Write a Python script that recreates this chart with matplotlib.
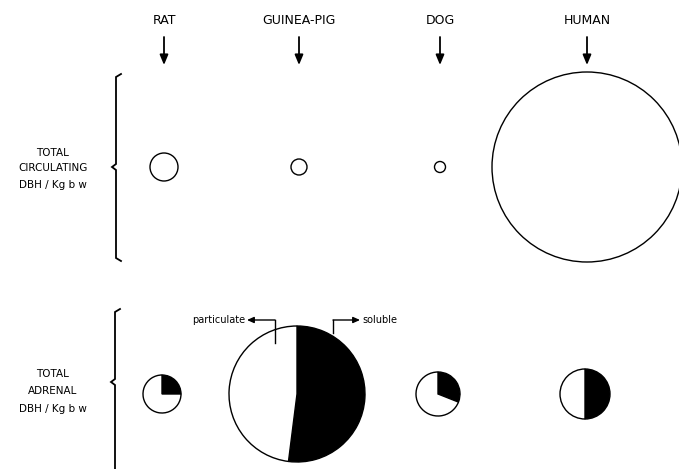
import numpy as np
import matplotlib
matplotlib.use('Agg')
import matplotlib.pyplot as plt
from matplotlib.patches import Circle

# data (circle radii in relative units, soluble fraction of adrenal DBH)
species = ['RAT', 'GUINEA-PIG', 'DOG', 'HUMAN']
circulating_size = [14, 8, 5.5, 95]
adrenal_size = [19, 68, 22, 25]
soluble_fraction = [0.25, 0.52, 0.31, 0.50]

row_labels = [['TOTAL', 'CIRCULATING', 'DBH / Kg b w'],
              ['TOTAL', 'ADRENAL', 'DBH / Kg b w']]

# layout (figure pixels, y measured upward)
W, H = 679, 469
col_x = [164, 299, 440, 587]
top_y = H - 167
bot_y = H - 394

fig = plt.figure(figsize=(W / 100, H / 100), dpi=100)
ax = fig.add_axes([0, 0, 1, 1])

lw = 1.0

# species names and arrows
for name, x, r in zip(species, col_x, circulating_size):
    ax.text(x, H - 20, name, ha='center', va='center', fontsize=9)
    tip = max(H - 65, top_y + r + 1)
    ax.annotate('', xy=(x, tip), xytext=(x, H - 37),
                arrowprops=dict(arrowstyle='-|>,head_length=0.6,head_width=0.25',
                                color='black', lw=1.3, shrinkA=0, shrinkB=0))

# top row: total circulating DBH
for x, r in zip(col_x, circulating_size):
    ax.add_patch(Circle((x, top_y), r, facecolor='white', edgecolor='black', lw=lw))

# bottom row: total adrenal DBH split into soluble / particulate
for x, r, f in zip(col_x, adrenal_size, soluble_fraction):
    ax.pie([f, 1 - f], colors=['black', 'white'], startangle=90, counterclock=False,
           center=(x - 2, bot_y), radius=r, frame=True,
           wedgeprops=dict(edgecolor='black', linewidth=lw))

# particulate / soluble callouts on the guinea-pig pie
ax.plot([275, 275], [H - 343, H - 320], color='black', lw=1.0)
ax.annotate('', xy=(247, H - 320), xytext=(275, H - 320),
            arrowprops=dict(arrowstyle='-|>,head_length=0.4,head_width=0.18',
                            color='black', lw=1.0, shrinkA=0, shrinkB=0))
ax.text(245, H - 320, 'particulate', ha='right', va='center', fontsize=7)
ax.plot([333, 333], [H - 333, H - 320], color='black', lw=1.0)
ax.annotate('', xy=(360, H - 320), xytext=(333, H - 320),
            arrowprops=dict(arrowstyle='-|>,head_length=0.4,head_width=0.18',
                            color='black', lw=1.0, shrinkA=0, shrinkB=0))
ax.text(362, H - 320, 'soluble', ha='left', va='center', fontsize=7)


def brace(x, y0, y1, ym):
    # left curly brace drawn as a vertical line with hooks and a point
    ax.plot([x + 5, x, x, x - 4, x, x, x + 5],
            [y1 + 3, y1, ym + 3, ym, ym - 3, y0, y0 - 3],
            color='black', lw=1.3, solid_joinstyle='miter')


brace(116, H - 258, H - 77, H - 167)
brace(115, -5, H - 312, H - 382)

# row descriptions
for lines, ys in zip(row_labels, [[153, 168, 185], [374, 391, 409]]):
    for txt, yy in zip(lines, ys):
        ax.text(53, H - yy, txt, ha='center', va='center', fontsize=7.5)

ax.set_xlim(0, W)
ax.set_ylim(0, H)
ax.set_aspect('equal')
ax.axis('off')

plt.savefig('out.png', dpi=100)
